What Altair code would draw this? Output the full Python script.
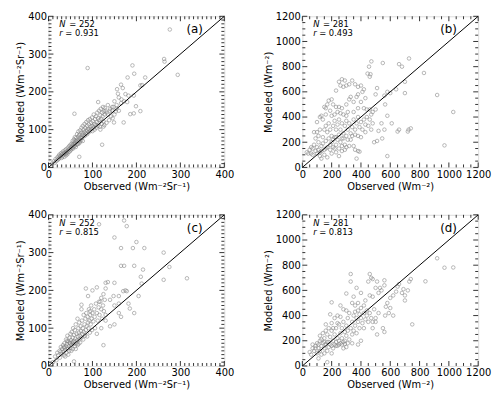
import altair as alt
import pandas as pd

# ---------------- data ----------------
a_pts = [(276,365),(89,263),(263,287),(264,280),(294,245),(191,270),(195,248),(180,238),(220,238),(209,217),(213,218),(165,219),(169,210),(182,190),(194,190),(175,194),(179,173),(156,207),(158,195),(186,141),(199,162),(209,149),(194,143),(122,60),(70,28),(59,142),(113,173),(149,119),(171,119),(160,185),(166,180),(172,175),(150,175),(145,160),(155,165),(140,155),(135,165),(128,158),(130,150),
(8,10),(12,16),(14,12),(16,22),(18,17),(20,26),(21,20),(23,30),(24,23),(25,34),(26,27),(28,31),(29,38),(30,25),(31,35),(32,29),(33,42),(34,33),(35,38),(36,28),(37,45),(38,36),(39,40),(40,32),(40,48),(41,38),(42,43),(43,35),(44,52),(45,40),
(46,47),(47,56),(48,42),(49,50),(50,45),(50,60),(51,54),(52,48),(53,63),(54,52),(55,58),(55,70),(56,50),(57,62),(58,55),(58,74),(59,66),(60,58),(60,80),(61,63),(62,70),(62,54),(63,78),(64,60),(65,67),(65,88),(66,72),(67,62),(68,82),(68,95),(69,70),(70,64),(70,86),(71,76),(72,98),(72,68),(73,80),(74,72),(75,92),(75,105),(76,78),(77,86),(78,70),(78,110),(79,90),(80,82),(80,100),
(82,94),(82,115),(83,84),(84,104),(85,90),(86,120),(87,98),(88,88),(88,110),(90,102),(90,125),(91,93),(92,114),(93,100),(94,128),(95,96),(96,108),(97,118),(98,102),(99,132),(100,110),(100,96),(101,122),(102,105),(103,140),(104,115),(105,100),(106,128),(107,112),(108,135),(109,105),(110,120),(111,145),(112,110),(113,130),(114,118),(115,150),(116,125),(117,108),(118,138),(119,155),(120,128),(121,115),(122,145),(123,135),(124,160),(125,122),(126,148),(127,112),(128,140),
(118,100),(125,108),(132,118),(138,125),(142,135),(146,130),(150,140),(153,148),(135,140),(140,150),(132,145),(145,150),(148,160),(160,150),(165,170),(155,155)]

b_pts = [(471,842),(549,829),(660,820),(680,800),(728,865),(830,750),(920,575),(1030,440),(970,175),(700,680),(700,590),(640,620),(660,300),(650,285),(725,300),(740,310),(720,285),(600,590),(580,600),(565,500),(560,570),(510,630),(455,800),(465,740),(445,745),(460,720),(500,580),(580,90),(370,70),(130,70),(490,200),(545,230),(510,210),(610,350),(580,410),(560,300),(540,350),(520,290),
(270,700),(290,690),(250,680),(320,660),(300,650),(340,690),(360,660),(380,640),(260,650),(280,640),(230,610),(200,540),(180,530),(170,500),(150,480),(160,470),(190,450),(210,500),(230,480),(250,480),(270,470),(300,500),(320,540),(330,560),(350,520),(370,560),(380,580),(400,650),(420,620),(410,600),(400,520),(430,550),(120,400),(130,410),(100,360),(140,380),(160,420),(200,410),(220,420),(240,440),(260,430),(280,420),(300,410),(310,440),(350,440),(380,470),(420,470),(440,460),(460,460),(480,440),(500,460),(470,420),
(80,280),(90,230),(100,280),(110,250),(120,300),(140,240),(150,300),(160,330),(170,280),(180,350),(190,300),(200,250),(210,330),(220,370),(230,300),(240,340),(250,380),(260,300),(270,350),(280,270),(290,330),(300,370),(310,300),(320,350),(330,270),(340,320),(350,380),(360,300),(370,350),(380,400),(390,320),(400,360),(410,300),(420,380),(430,340),(440,400),(450,330),(460,380),(470,300),(480,350),(340,250),(360,260),(380,250),(400,240),(430,280),(300,250),(270,230),(250,260),(230,240),(210,220),(330,220),
(30,120),(50,140),(60,110),(70,150),(80,180),(90,130),(100,160),(110,200),(120,120),(130,170),(140,190),(150,140),(160,210),(170,160),(180,230),(190,180),(200,200),(210,160),(220,240),(230,180),(240,220),(250,150),(260,200),(270,170),(280,230),(290,180),(300,160),(310,220),(320,170),(350,170),(360,140),(380,130),(390,125),(150,100),(120,90),(170,80),(200,110),(230,120),(250,90),(270,130),(290,140),(70,100),(40,110),(130,130),(160,150),(190,140),(220,150),(100,110),(60,160),(110,140)]

c_pts = [(115,375),(172,385),(178,370),(150,340),(165,312),(192,312),(200,328),(218,312),(262,300),(275,262),(315,232),(262,228),(210,236),(212,218),(205,185),(195,265),(215,255),(195,140),(185,152),(182,165),(170,198),(175,200),(178,198),(165,265),(172,265),(148,185),(160,165),(130,220),(135,222),(150,220),(130,205),(125,190),(110,208),(90,185),(85,205),(125,55),(58,12),(160,140),(165,130),(150,110),(140,105),(160,185),(150,160),(140,175),(120,180),(115,170),(100,200),(95,145),(75,150),(75,162),(120,100),(130,120),(110,85),
(10,10),(15,25),(18,15),(20,35),(22,28),(25,40),(26,22),(28,50),(30,32),(31,45),(33,55),(34,38),(35,28),(36,60),(37,48),(38,42),(40,52),(40,70),(41,35),(42,58),(43,80),(44,46),(45,65),(46,52),(47,40),(48,75),(49,60),(50,48),(50,85),(51,68),(52,56),(53,90),(54,62),(55,45),(55,75),(56,100),(57,58),(58,82),(59,66),(60,52),(60,95),(61,72),(62,110),(63,60),(64,85),(65,68),(66,125),(67,78),(68,58),(68,100),(69,88),(70,70),(70,115),(71,80),(72,62),(73,105),(74,92),(75,75),(76,120),(77,85),(78,100),(79,70),(80,135),(80,90),(82,110),(83,80),(84,125),(85,95),(86,140),(87,105),(88,78),(89,130),(90,115),(91,100),(92,150),(93,120),(94,88),(95,135),(96,110),(97,160),(98,125),(99,95),(100,140),(102,118),(104,150),(105,130),(106,100),(108,165),(110,140),(112,120),(114,155),(116,135),(118,170),(120,150),(122,125),(124,160),(126,145),(128,175),(130,135),(45,30),(38,25),(52,40),(62,45),(48,62),(56,64),(66,55),(42,66),(35,50),(28,38)]

d_pts = [(920,855),(970,780),(1030,782),(840,672),(740,690),(730,670),(750,330),(700,520),(700,560),(690,610),(720,600),(680,580),(660,650),(650,630),(620,400),(600,540),(580,500),(570,470),(565,400),(560,270),(550,300),(540,600),(530,620),(520,580),(510,670),(500,620),(510,250),(460,730),(470,700),(480,690),(450,670),(400,580),(330,730),(330,670),(370,620),(350,550),(300,575),(200,505),(190,410),(160,330),(170,30),(620,560),(640,590),(560,640),(560,680),(590,420),(600,460),(480,550),(460,560),(520,420),(500,380),(480,350),(430,520),(420,480),(440,440),(380,500),(360,480),(340,500),(400,460),(380,440),(360,430),(260,480),(280,450),(240,400),(300,440),(320,420),
(50,110),(60,90),(70,140),(80,120),(90,160),(100,100),(100,180),(110,140),(120,200),(120,120),(130,160),(140,260),(140,180),(150,140),(150,220),(160,170),(170,120),(170,250),(180,190),(180,150),(190,230),(200,160),(200,280),(210,200),(210,140),(220,250),(220,170),(230,300),(230,190),(240,220),(240,160),(250,330),(250,200),(260,260),(260,180),(270,300),(270,220),(280,350),(280,190),(290,270),(290,200),(300,320),(300,240),(310,380),(310,280),(320,210),(330,300),(340,350),(340,250),(350,400),(350,280),(360,320),(370,380),(370,260),(380,350),(390,410),(390,300),(400,380),(410,340),(420,420),(420,300),(430,370),(440,400),(450,350),(460,420),(470,380),(480,300),(490,450),(500,350),(400,200),(380,170),(340,180),(300,150),(280,140),(200,100),(130,90),(110,60),(150,100),(90,140),(70,170),(120,240),(160,280),(180,300),(200,340),(220,380),(240,340),(260,390),(210,300),(150,190),(110,170),(130,210),(250,170),(230,160),(270,170),(290,175),(310,180),(190,170),(170,190)]

panel_labels = ["(a)", "(b)", "(c)", "(d)"]
n_values = ["252", "281", "252", "281"]
r_values = ["0.931", "0.493", "0.815", "0.813"]
x_titles = ["Observed (Wm\u207b\u00b2Sr\u207b\u00b9)", "Observed (Wm\u207b\u00b2)",
            "Observed (Wm\u207b\u00b2Sr\u207b\u00b9)", "Observed (Wm\u207b\u00b2)"]
y_titles = ["Modeled (Wm\u207b\u00b2Sr\u207b\u00b9)", "Modeled (Wm\u207b\u00b2)",
            "Modeled (Wm\u207b\u00b2Sr\u207b\u00b9)", "Modeled (Wm\u207b\u00b2)"]
ranges = [400, 1200, 400, 1200]
major_steps = [100, 200, 100, 200]
minor_steps = [10, 50, 10, 50]

W, H = 178, 153
FONT = "DejaVu Sans"


def panel(pts, maxv, major, minor, xt, yt, lab, n, r):
    df = pd.DataFrame(pts, columns=["obs", "mod"])
    majors = list(range(0, maxv + 1, major))
    minors = [v for v in range(0, maxv + 1, minor) if v % major != 0]
    sx = alt.Scale(domain=[0, maxv], nice=False, zero=False)
    sy = alt.Scale(domain=[0, maxv], nice=False, zero=False)
    common = dict(values=majors, ticks=False, grid=False, domain=False, format="d",
                  labelOverlap=False, labelFlush=False, labelFontSize=10, titleFontSize=10,
                  labelPadding=2, titlePadding=2,
                  labelColor="black", titleColor="black", titleFontWeight="normal",
                  labelFont=FONT, titleFont=FONT)
    ax_x = alt.Axis(title=xt, **common)
    ax_y = alt.Axis(title=yt, **common)

    def X(f):
        return alt.X(f, scale=sx, axis=ax_x)

    def Y(f):
        return alt.Y(f, scale=sy, axis=ax_y)

    pts_layer = alt.Chart(df).mark_point(
        shape="circle", filled=False, size=13, color="#808080", strokeWidth=0.8
    ).encode(x=X("obs:Q"), y=Y("mod:Q"))
    diag = alt.Chart(pd.DataFrame({"obs": [0, maxv], "mod": [0, maxv]})).mark_line(
        color="black", strokeWidth=1
    ).encode(x=X("obs:Q"), y=Y("mod:Q"))

    layers = [pts_layer, diag]
    for vals, ln in ((majors, 5), (minors, 3)):
        tdf = pd.DataFrame({"obs": vals, "mod": vals})
        base = alt.Chart(tdf).mark_rule(color="black", strokeWidth=0.8)
        layers.append(base.encode(x=X("obs:Q"), y=alt.value(H), y2=alt.value(H - ln)))
        layers.append(base.encode(x=X("obs:Q"), y=alt.value(0), y2=alt.value(ln)))
        layers.append(base.encode(y=Y("mod:Q"), x=alt.value(0), x2=alt.value(ln)))
        layers.append(base.encode(y=Y("mod:Q"), x=alt.value(W), x2=alt.value(W - ln)))

    def txt(t, x, y, size, style="normal", align="left"):
        return alt.Chart(pd.DataFrame({"t": [t]})).mark_text(
            font=FONT, fontSize=size, fontStyle=style, align=align, baseline="middle", color="black"
        ).encode(text="t:N", x=alt.value(x), y=alt.value(y))

    layers += [
        txt("N", 11, 8, 8.5, "italic"),
        txt("= " + n, 21, 8, 8.5),
        txt("r", 11, 17, 8.5, "italic"),
        txt("= " + r, 17, 17, 8.5),
        txt(lab, 148, 13, 12, align="center"),
    ]
    return alt.layer(*layers).properties(width=W, height=H)


panels = [panel(p, ranges[i], major_steps[i], minor_steps[i], x_titles[i], y_titles[i],
                panel_labels[i], n_values[i], r_values[i])
          for i, p in enumerate([a_pts, b_pts, c_pts, d_pts])]

row1 = alt.hconcat(panels[0], panels[1], spacing=28)
row2 = alt.hconcat(panels[2], panels[3], spacing=28)
chart = alt.vconcat(row1, row2, spacing=17).properties(
    padding={"left": 7, "top": 0, "right": 0, "bottom": 0}
).configure_view(stroke="black", strokeWidth=1).configure(font=FONT)

chart.save("out.html", embed_options={"renderer": "svg", "actions": False})
